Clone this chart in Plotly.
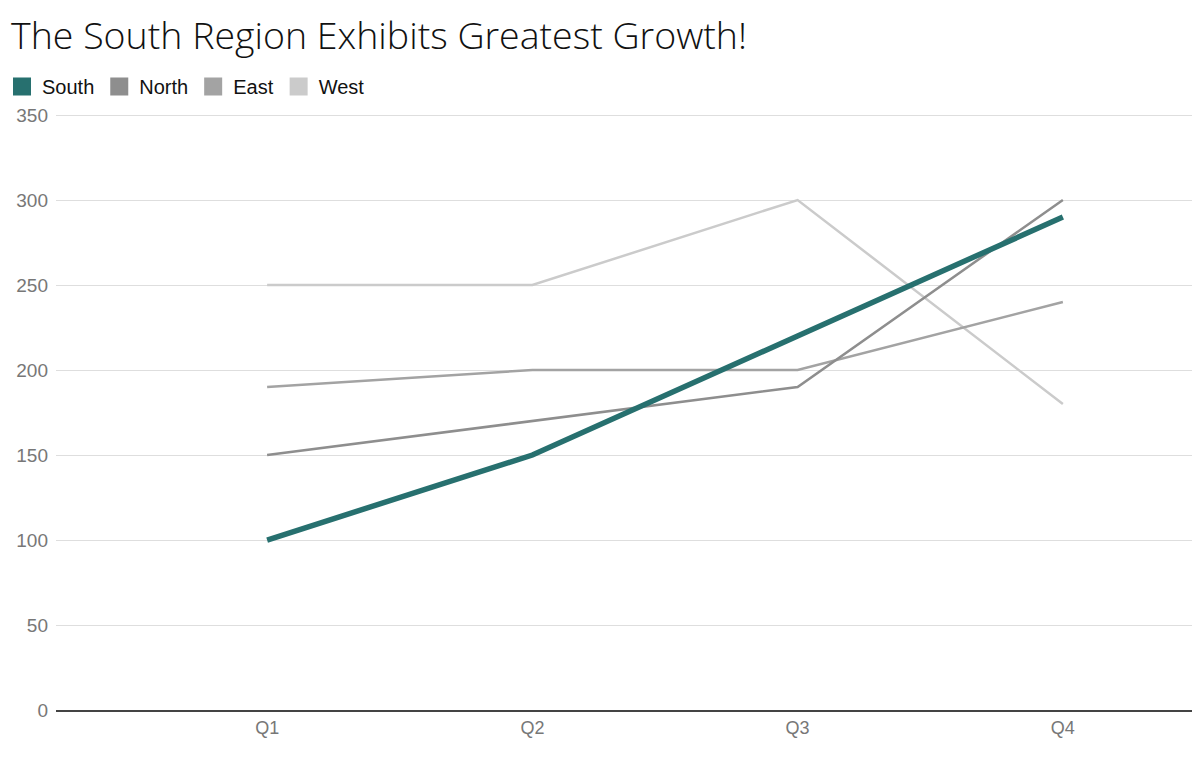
import plotly.graph_objects as go

quarters = ["Q1", "Q2", "Q3", "Q4"]
south = [100, 150, 220, 290]
north = [150, 170, 190, 300]
east = [190, 200, 200, 240]
west = [250, 250, 300, 180]
y_ticks = [0, 50, 100, 150, 200, 250, 300, 350]

series = [
    ("West", west, "#cbcbcb", 2.5),
    ("East", east, "#a3a3a3", 2.5),
    ("North", north, "#8e8e8e", 2.5),
    ("South", south, "#27706f", 5.5),
]

fig = go.Figure()
for name, vals, color, w in series:
    fig.add_trace(go.Scatter(
        x=quarters, y=vals, mode="lines", name=name,
        line=dict(color=color, width=w), showlegend=False,
        hoverinfo="x+y+name",
    ))
# legend entries (square swatches)
for name, vals, color, w in reversed(series):
    fig.add_trace(go.Scatter(
        x=[None], y=[None], mode="markers", name=name,
        marker=dict(symbol="square", size=16, color=color,
                    line=dict(color=color, width=2)),
        showlegend=True,
    ))

# page body has an 8px margin; figure is sized to compensate
W, H = 1192, 758
L, T, PH = 48, 106, 596

fig.update_layout(
    width=W, height=H,
    paper_bgcolor="white", plot_bgcolor="white",
    margin=dict(l=L, r=0, t=T, b=H - T - PH, autoexpand=False),
    title=dict(
        text="The South Region Exhibits Greatest Growth!",
        x=3 / W, xref="container", xanchor="left",
        y=1 - 28 / H, yref="container", yanchor="middle",
        font=dict(family="Open Sans", size=37.5, color="#111", weight=300),
    ),
    legend=dict(
        orientation="h", x=-(L + 6) / (W - L), xanchor="left",
        y=1 + 47 / PH, yanchor="top",
        font=dict(family="Liberation Sans", size=20, color="#111"),
        itemsizing="trace", traceorder="normal",
        bgcolor="rgba(0,0,0,0)",
    ),
    xaxis=dict(
        categoryorder="array", categoryarray=quarters,
        range=[-0.796, 3.517],
        showgrid=False, showline=True, linecolor="#444", linewidth=1.5,
        ticks="", ticklabelstandoff=1,
        tickfont=dict(family="Liberation Sans", size=18, color="#777"),
        zeroline=False, fixedrange=True, automargin=False,
    ),
    yaxis=dict(
        range=[0, 350.6], tickvals=y_ticks,
        showgrid=True, gridcolor="#dedede", gridwidth=1.2,
        zeroline=False, ticks="", ticklabelstandoff=7,
        tickfont=dict(family="Liberation Sans", size=19, color="#777"),
        fixedrange=True, automargin=False,
    ),
    showlegend=True,
)

fig.write_html("out.html")
